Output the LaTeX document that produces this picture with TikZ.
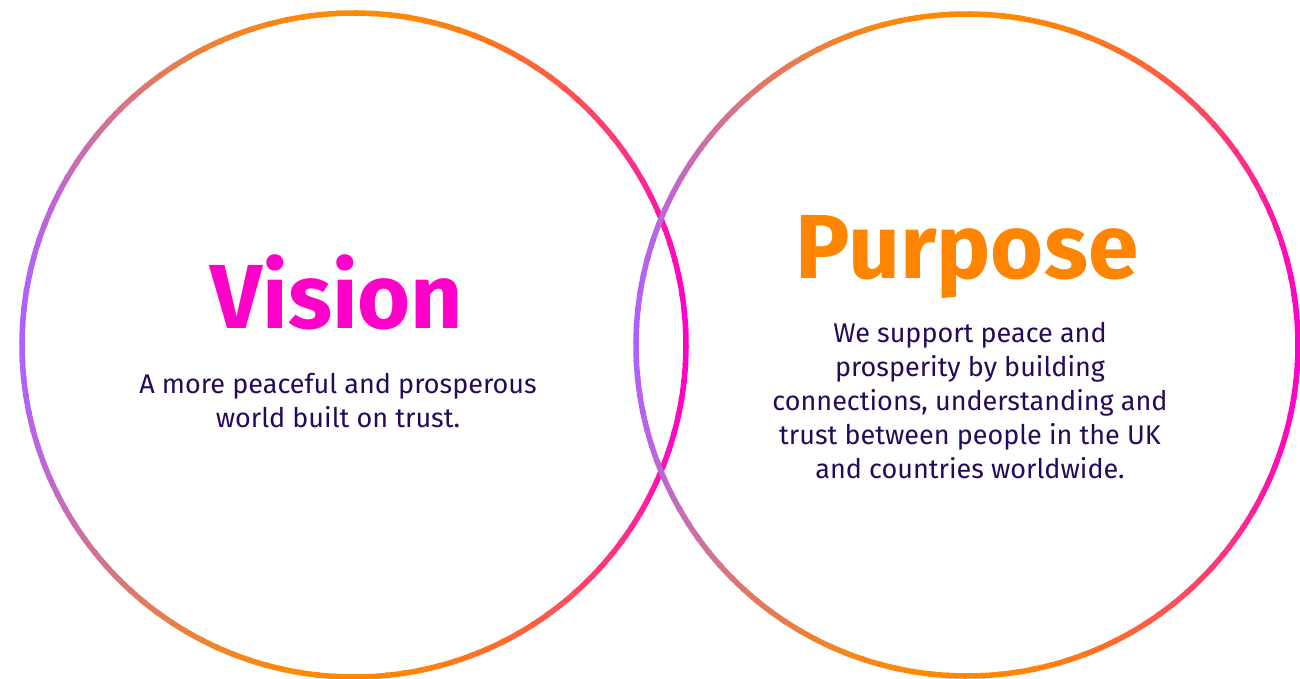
\documentclass[tikz,border=0pt]{standalone}
\usepackage{fontspec}
\setmainfont{Fira Sans}
\usetikzlibrary{positioning}

\definecolor{ringR}{HTML}{FF00CC}
\definecolor{ringT}{HTML}{FF8A00}
\definecolor{ringL}{HTML}{B060FF}
\definecolor{ringB}{HTML}{FF8A00}
\definecolor{visionPink}{HTML}{FF00C8}
\definecolor{purposeOrange}{HTML}{FF8400}
\definecolor{bodyInk}{HTML}{26095C}

\tikzset{
	ring/.style={line width=5.5pt},
	headline/.style={font=\fontsize{91}{91}\selectfont\bfseries, inner sep=0pt, anchor=base},
	bodytext/.style={font=\fontsize{27}{34}\selectfont, text=bodyInk, align=center, inner sep=0pt, anchor=base}
}

% ring with a colour sweep: right -> bottom -> left -> top
\newcommand{\gradring}[2]{%
	\foreach \a in {0,3,...,357}{
		\pgfmathtruncatemacro\q{int(\a/90)}
		\pgfmathsetmacro\t{mod(\a,90)/90}
		\pgfmathsetmacro\p{100-100*(3*\t*\t-2*\t*\t*\t)}
		\ifcase\q \colorlet{ringc}{ringR!\p!ringT}\or \colorlet{ringc}{ringT!\p!ringL}\or \colorlet{ringc}{ringL!\p!ringB}\or \colorlet{ringc}{ringB!\p!ringR}\fi
		\draw[ring, draw=ringc] (#1) ++(\a:#2) arc[start angle=\a, end angle=\a+3.6, radius=#2];
	}
}

\begin{document}
\begin{tikzpicture}[x=1pt,y=-1pt]
	\useasboundingbox (0,0) rectangle (1300,679);
	\coordinate (visionC)  at (354,345);
	\coordinate (purposeC) at (967,345);

	\gradring{visionC}{332}
	\gradring{purposeC}{331}

	% multi-line nodes: base is the last line
	\node (vision)  at (337,328)	[headline, text=visionPink]	{Vision};
	\node (visionT) at (338,427)	[bodytext]	{A more peaceful and prosperous\\world built on trust.};

	\node (purpose)  at (967,278)	[headline, text=purposeOrange]	{Purpose};
	\node (purposeT) at (970,478)	[bodytext]	{We support peace and\\prosperity by building\\connections, understanding and\\trust between people in the UK\\and countries worldwide.};
\end{tikzpicture}
\end{document}
